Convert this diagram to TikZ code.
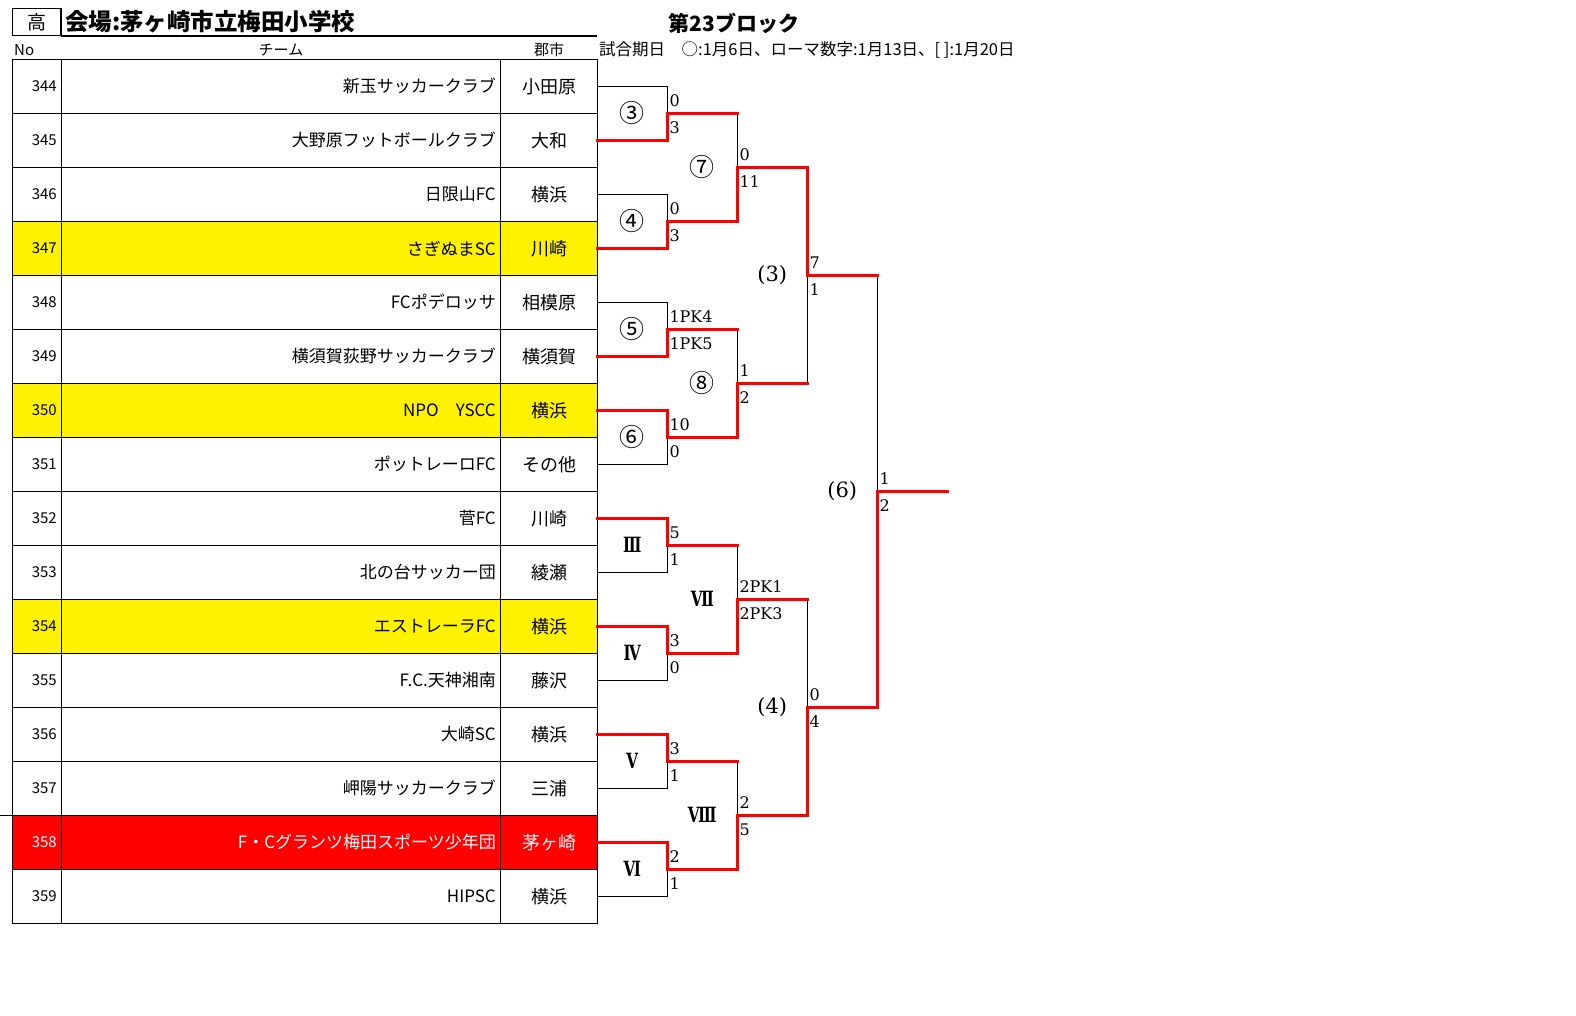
\documentclass[tikz,border=0pt]{standalone}
\usepackage{graphicx}
\usepackage{fontspec}
\setmainfont{Noto Sans CJK JP}
\newfontfamily\scorefont{DejaVu Serif}
\begin{document}
\begin{tikzpicture}[x=1pt,y=-1pt,
  grid/.style={line width=1.2pt},
  lose/.style={line width=1pt},
  win/.style={line width=3pt,color=red,line cap=rect},
  numtxt/.style={anchor=east,inner sep=0pt,font=\fontsize{15}{15}\selectfont},
  team/.style={anchor=east,inner sep=0pt,font=\fontsize{17}{17}\selectfont},
  city/.style={inner sep=0pt,font=\fontsize{18}{18}\selectfont},
  score/.style={anchor=base west,inner sep=0pt,font=\scorefont\fontsize{16}{16}\selectfont},
  circ/.style={inner sep=0pt,font=\fontsize{25}{25}\selectfont},
  roman/.style={inner sep=0pt,font=\scorefont\bfseries\fontsize{21}{21}\selectfont},
  paren/.style={inner sep=0pt,font=\scorefont\fontsize{21}{21}\selectfont}]
\useasboundingbox (0,0) rectangle (1576,1016);
% header
\node[draw,line width=1.5pt,minimum width=48.7pt,minimum height=27.4pt,inner sep=0pt,font=\fontsize{19}{19}\selectfont] (kou) at (36.7,22) {高};
\node[anchor=west,inner sep=0pt,font=\bfseries\fontsize{23.5}{23.5}\selectfont] (venue) at (65,22) {会場:茅ヶ崎市立梅田小学校};
\draw[grid] (61,36) -- (597.3,36);
\node[anchor=west,inner sep=0pt,font=\fontsize{15}{15}\selectfont] (hd_no) at (14,50) {No};
\node[inner sep=0pt,font=\fontsize{15}{15}\selectfont] (hd_team) at (281,50) {チーム};
\node[inner sep=0pt,font=\fontsize{15}{15}\selectfont] (hd_city) at (549,50) {郡市};
\node[inner sep=0pt,font=\bfseries\fontsize{21}{21}\selectfont] (block) at (734,23) {第23ブロック};
\node[anchor=west,inner sep=0pt,font=\fontsize{16.5}{16.5}\selectfont] (dates) at (599,50) {試合期日　○:1月6日、ローマ数字:1月13日、[ ]:1月20日};
% row fills
\draw[fill,color=yellow] (12.5,221.3) rectangle (597.3,275.3);
\draw[fill,color=yellow] (12.5,383.3) rectangle (597.3,437.3);
\draw[fill,color=yellow] (12.5,599.3) rectangle (597.3,653.3);
\draw[fill,color=red] (12.5,815.3) rectangle (597.3,869.3);
% table grid
\draw[grid] (12.5,59.3) rectangle (597.3,923.3);
\draw[grid] (61.7,59.3) -- (61.7,923.3);
\draw[grid] (500.7,59.3) -- (500.7,923.3);
\draw[grid] (12.5,113.3) -- (597.3,113.3);
\draw[grid] (12.5,167.3) -- (597.3,167.3);
\draw[grid] (12.5,221.3) -- (597.3,221.3);
\draw[grid] (12.5,275.3) -- (597.3,275.3);
\draw[grid] (12.5,329.3) -- (597.3,329.3);
\draw[grid] (12.5,383.3) -- (597.3,383.3);
\draw[grid] (12.5,437.3) -- (597.3,437.3);
\draw[grid] (12.5,491.3) -- (597.3,491.3);
\draw[grid] (12.5,545.3) -- (597.3,545.3);
\draw[grid] (12.5,599.3) -- (597.3,599.3);
\draw[grid] (12.5,653.3) -- (597.3,653.3);
\draw[grid] (12.5,707.3) -- (597.3,707.3);
\draw[grid] (12.5,761.3) -- (597.3,761.3);
\draw[grid] (0,815.3) -- (597.3,815.3);
\draw[grid] (12.5,869.3) -- (597.3,869.3);
% rows
\node[numtxt] (no_344) at (57,86.3) {344};
\node[team] (team_344) at (496,86.3) {新玉サッカークラブ};
\node[city] (city_344) at (549,86.3) {小田原};
\coordinate (e_344) at (597.3,86.3);
\node[numtxt] (no_345) at (57,140.3) {345};
\node[team] (team_345) at (496,140.3) {大野原フットボールクラブ};
\node[city] (city_345) at (549,140.3) {大和};
\coordinate (e_345) at (597.3,140.3);
\node[numtxt] (no_346) at (57,194.3) {346};
\node[team] (team_346) at (496,194.3) {日限山FC};
\node[city] (city_346) at (549,194.3) {横浜};
\coordinate (e_346) at (597.3,194.3);
\node[numtxt] (no_347) at (57,248.3) {347};
\node[team] (team_347) at (496,248.3) {さぎぬまSC};
\node[city] (city_347) at (549,248.3) {川崎};
\coordinate (e_347) at (597.3,248.3);
\node[numtxt] (no_348) at (57,302.3) {348};
\node[team] (team_348) at (496,302.3) {FCポデロッサ};
\node[city] (city_348) at (549,302.3) {相模原};
\coordinate (e_348) at (597.3,302.3);
\node[numtxt] (no_349) at (57,356.3) {349};
\node[team] (team_349) at (496,356.3) {横須賀荻野サッカークラブ};
\node[city] (city_349) at (549,356.3) {横須賀};
\coordinate (e_349) at (597.3,356.3);
\node[numtxt] (no_350) at (57,410.3) {350};
\node[team] (team_350) at (496,410.3) {NPO　YSCC};
\node[city] (city_350) at (549,410.3) {横浜};
\coordinate (e_350) at (597.3,410.3);
\node[numtxt] (no_351) at (57,464.3) {351};
\node[team] (team_351) at (496,464.3) {ポットレーロFC};
\node[city] (city_351) at (549,464.3) {その他};
\coordinate (e_351) at (597.3,464.3);
\node[numtxt] (no_352) at (57,518.3) {352};
\node[team] (team_352) at (496,518.3) {菅FC};
\node[city] (city_352) at (549,518.3) {川崎};
\coordinate (e_352) at (597.3,518.3);
\node[numtxt] (no_353) at (57,572.3) {353};
\node[team] (team_353) at (496,572.3) {北の台サッカー団};
\node[city] (city_353) at (549,572.3) {綾瀬};
\coordinate (e_353) at (597.3,572.3);
\node[numtxt] (no_354) at (57,626.3) {354};
\node[team] (team_354) at (496,626.3) {エストレーラFC};
\node[city] (city_354) at (549,626.3) {横浜};
\coordinate (e_354) at (597.3,626.3);
\node[numtxt] (no_355) at (57,680.3) {355};
\node[team] (team_355) at (496,680.3) {F.C.天神湘南};
\node[city] (city_355) at (549,680.3) {藤沢};
\coordinate (e_355) at (597.3,680.3);
\node[numtxt] (no_356) at (57,734.3) {356};
\node[team] (team_356) at (496,734.3) {大崎SC};
\node[city] (city_356) at (549,734.3) {横浜};
\coordinate (e_356) at (597.3,734.3);
\node[numtxt] (no_357) at (57,788.3) {357};
\node[team] (team_357) at (496,788.3) {岬陽サッカークラブ};
\node[city] (city_357) at (549,788.3) {三浦};
\coordinate (e_357) at (597.3,788.3);
\node[numtxt,color=white] (no_358) at (57,842.3) {358};
\node[team,color=white] (team_358) at (496,842.3) {F・Cグランツ梅田スポーツ少年団};
\node[city,color=white] (city_358) at (549,842.3) {茅ヶ崎};
\coordinate (e_358) at (597.3,842.3);
\node[numtxt] (no_359) at (57,896.3) {359};
\node[team] (team_359) at (496,896.3) {HIPSC};
\node[city] (city_359) at (549,896.3) {横浜};
\coordinate (e_359) at (597.3,896.3);
% match points
\coordinate (g_3) at (667.3,113.3);
\coordinate (g_4) at (667.3,221.3);
\coordinate (g_5) at (667.3,329.3);
\coordinate (g_6) at (667.3,437.3);
\coordinate (g_III) at (667.3,545.3);
\coordinate (g_IV) at (667.3,653.3);
\coordinate (g_V) at (667.3,761.3);
\coordinate (g_VI) at (667.3,869.3);
\coordinate (g_7) at (737.3,167.3);
\coordinate (g_8) at (737.3,383.3);
\coordinate (g_VII) at (737.3,599.3);
\coordinate (g_VIII) at (737.3,815.3);
\coordinate (g_p3) at (807.3,275.3);
\coordinate (g_p4) at (807.3,707.3);
\coordinate (g_p6) at (877.3,491.3);
\coordinate (g_end) at (947.3,491.3);
% round 1
\draw[lose] (e_344) -| (g_3);
\draw[win] (e_345) -| (g_3);
\draw[lose] (e_346) -| (g_4);
\draw[win] (e_347) -| (g_4);
\draw[lose] (e_348) -| (g_5);
\draw[win] (e_349) -| (g_5);
\draw[lose] (e_351) -| (g_6);
\draw[win] (e_350) -| (g_6);
\draw[lose] (e_353) -| (g_III);
\draw[win] (e_352) -| (g_III);
\draw[lose] (e_355) -| (g_IV);
\draw[win] (e_354) -| (g_IV);
\draw[lose] (e_357) -| (g_V);
\draw[win] (e_356) -| (g_V);
\draw[lose] (e_359) -| (g_VI);
\draw[win] (e_358) -| (g_VI);
% round 2
\draw[lose] (g_3 -| g_7) -- (g_7);
\draw[win] (g_3) -- (g_3 -| g_7);
\draw[win] (g_4) -| (g_7);
\draw[lose] (g_5 -| g_8) -- (g_8);
\draw[win] (g_5) -- (g_5 -| g_8);
\draw[win] (g_6) -| (g_8);
\draw[lose] (g_III -| g_VII) -- (g_VII);
\draw[win] (g_III) -- (g_III -| g_VII);
\draw[win] (g_IV) -| (g_VII);
\draw[lose] (g_V -| g_VIII) -- (g_VIII);
\draw[win] (g_V) -- (g_V -| g_VIII);
\draw[win] (g_VI) -| (g_VIII);
% round 3
\draw[lose] (g_8 -| g_p3) -- (g_p3);
\draw[win] (g_8) -- (g_8 -| g_p3);
\draw[win] (g_7) -| (g_p3);
\draw[lose] (g_VII -| g_p4) -- (g_p4);
\draw[win] (g_VII) -- (g_VII -| g_p4);
\draw[win] (g_VIII) -| (g_p4);
% final
\draw[lose] (g_p3 -| g_p6) -- (g_p6);
\draw[win] (g_p3) -- (g_p3 -| g_p6);
\draw[win] (g_p4) -| (g_p6);
\draw[win] (g_p6) -- (g_end);
% match labels
\node[circ] (lb_3) at ([shift={(-35,0)}]g_3) {③};
\node[circ] (lb_4) at ([shift={(-35,0)}]g_4) {④};
\node[circ] (lb_5) at ([shift={(-35,0)}]g_5) {⑤};
\node[circ] (lb_6) at ([shift={(-35,0)}]g_6) {⑥};
\node[roman] (lb_III) at ([shift={(-35,0)}]g_III) {\scalebox{0.72}[1]{Ⅲ}};
\node[roman] (lb_IV) at ([shift={(-35,0)}]g_IV) {\scalebox{0.72}[1]{Ⅳ}};
\node[roman] (lb_V) at ([shift={(-35,0)}]g_V) {\scalebox{0.72}[1]{Ⅴ}};
\node[roman] (lb_VI) at ([shift={(-35,0)}]g_VI) {\scalebox{0.72}[1]{Ⅵ}};
\node[circ] (lb_7) at ([shift={(-35,0)}]g_7) {⑦};
\node[circ] (lb_8) at ([shift={(-35,0)}]g_8) {⑧};
\node[roman] (lb_VII) at ([shift={(-35,0)}]g_VII) {\scalebox{0.72}[1]{Ⅶ}};
\node[roman] (lb_VIII) at ([shift={(-35,0)}]g_VIII) {\scalebox{0.72}[1]{Ⅷ}};
\node[paren] (lb_p3) at ([shift={(-35,0)}]g_p3) {(3)};
\node[paren] (lb_p4) at ([shift={(-35,0)}]g_p4) {(4)};
\node[paren] (lb_p6) at ([shift={(-35,0)}]g_p6) {(6)};
% scores
\node[score] (sc_3a) at ([shift={(2,-7)}]g_3) {0};
\node[score] (sc_3b) at ([shift={(2,20)}]g_3) {3};
\node[score] (sc_4a) at ([shift={(2,-7)}]g_4) {0};
\node[score] (sc_4b) at ([shift={(2,20)}]g_4) {3};
\node[score] (sc_5a) at ([shift={(2,-7)}]g_5) {1PK4};
\node[score] (sc_5b) at ([shift={(2,20)}]g_5) {1PK5};
\node[score] (sc_6a) at ([shift={(2,-7)}]g_6) {10};
\node[score] (sc_6b) at ([shift={(2,20)}]g_6) {0};
\node[score] (sc_IIIa) at ([shift={(2,-7)}]g_III) {5};
\node[score] (sc_IIIb) at ([shift={(2,20)}]g_III) {1};
\node[score] (sc_IVa) at ([shift={(2,-7)}]g_IV) {3};
\node[score] (sc_IVb) at ([shift={(2,20)}]g_IV) {0};
\node[score] (sc_Va) at ([shift={(2,-7)}]g_V) {3};
\node[score] (sc_Vb) at ([shift={(2,20)}]g_V) {1};
\node[score] (sc_VIa) at ([shift={(2,-7)}]g_VI) {2};
\node[score] (sc_VIb) at ([shift={(2,20)}]g_VI) {1};
\node[score] (sc_7a) at ([shift={(2,-7)}]g_7) {0};
\node[score] (sc_7b) at ([shift={(2,20)}]g_7) {11};
\node[score] (sc_8a) at ([shift={(2,-7)}]g_8) {1};
\node[score] (sc_8b) at ([shift={(2,20)}]g_8) {2};
\node[score] (sc_VIIa) at ([shift={(2,-7)}]g_VII) {2PK1};
\node[score] (sc_VIIb) at ([shift={(2,20)}]g_VII) {2PK3};
\node[score] (sc_VIIIa) at ([shift={(2,-7)}]g_VIII) {2};
\node[score] (sc_VIIIb) at ([shift={(2,20)}]g_VIII) {5};
\node[score] (sc_p3a) at ([shift={(2,-7)}]g_p3) {7};
\node[score] (sc_p3b) at ([shift={(2,20)}]g_p3) {1};
\node[score] (sc_p4a) at ([shift={(2,-7)}]g_p4) {0};
\node[score] (sc_p4b) at ([shift={(2,20)}]g_p4) {4};
\node[score] (sc_p6a) at ([shift={(2,-7)}]g_p6) {1};
\node[score] (sc_p6b) at ([shift={(2,20)}]g_p6) {2};
\end{tikzpicture}
\end{document}
